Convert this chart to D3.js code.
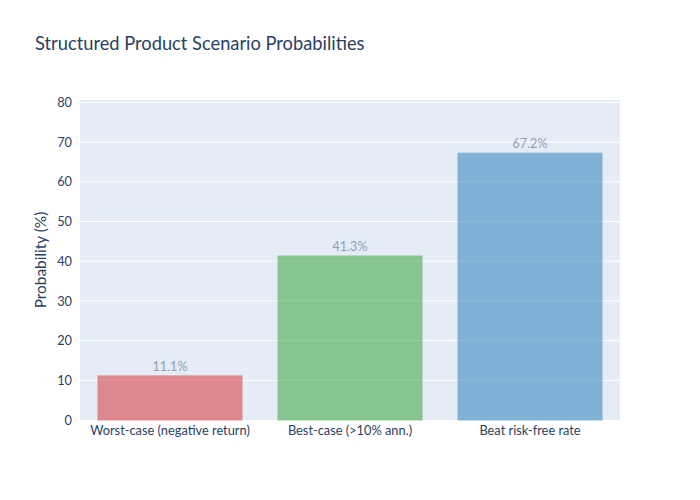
<!DOCTYPE html>
<html>
<head>
<meta charset="utf-8">
<script src="https://cdn.jsdelivr.net/npm/d3@7"></script>
<style>
  body { margin: 0; background: #fff; }
  text { font-family: Lato, "Noto Sans", sans-serif; }
</style>
</head>
<body>
<div id="chart"></div>
<script>
// chart data
const categories = ['Worst-case (negative return)', 'Best-case (>10% ann.)', 'Beat risk-free rate'];
const probabilities = [11.1, 41.3, 67.2];
const barColors = ['#d62728', '#2ca02c', '#1f77b4'];
const yTicks = [0, 10, 20, 30, 40, 50, 60, 70, 80];

const width = 700, height = 500;
const margin = {top: 100, right: 80, bottom: 80, left: 80};
const plotW = width - margin.left - margin.right;
const plotH = height - margin.top - margin.bottom;

const svg = d3.select('#chart').append('svg')
  .attr('width', width)
  .attr('height', height);

svg.append('text')
  .attr('x', 35)
  .attr('y', 50)
  .attr('fill', '#2a3f5f')
  .style('font-size', '18.3px')
  .text('Structured Product Scenario Probabilities');

const g = svg.append('g')
  .attr('transform', `translate(${margin.left},${margin.top})`);

g.append('rect')
  .attr('width', plotW)
  .attr('height', plotH)
  .attr('fill', '#e5ecf6');

const x = d3.scaleBand()
  .domain(categories)
  .range([0, plotW])
  .paddingInner(0.2)
  .paddingOuter(0.1);

const y = d3.scaleLinear()
  .domain([0, 80.6])
  .range([plotH, 0]);

// gridlines
g.selectAll('.grid')
  .data(yTicks.filter(d => d > 0))
  .enter().append('line')
  .attr('class', 'grid')
  .attr('x1', 0)
  .attr('x2', plotW)
  .attr('y1', d => y(d))
  .attr('y2', d => y(d))
  .attr('stroke', '#fff')
  .attr('stroke-width', 1);

// bars
g.selectAll('.bar')
  .data(probabilities)
  .enter().append('rect')
  .attr('class', 'bar')
  .attr('x', (d, i) => x(categories[i]))
  .attr('y', d => y(d))
  .attr('width', x.bandwidth())
  .attr('height', d => plotH - y(d))
  .attr('fill', (d, i) => barColors[i])
  .attr('stroke', (d, i) => barColors[i])
  .attr('stroke-width', 1)
  .attr('opacity', 0.5);

g.selectAll('.bar-label')
  .data(probabilities)
  .enter().append('text')
  .attr('class', 'bar-label')
  .attr('x', (d, i) => x(categories[i]) + x.bandwidth() / 2)
  .attr('y', d => y(d) - 5)
  .attr('text-anchor', 'middle')
  .attr('fill', '#2a3f5f')
  .attr('opacity', 0.45)
  .style('font-size', '12.6px')
  .text(d => d.toFixed(1) + '%');

// y axis
const yAxis = g.append('g')
  .call(d3.axisLeft(y).tickValues(yTicks).tickSize(0).tickPadding(8));
yAxis.select('.domain').remove();
yAxis.selectAll('text')
  .attr('fill', '#2a3f5f')
  .style('font-size', '12.8px')
  .style('font-family', 'Lato, "Noto Sans", sans-serif');

// x axis
const xAxis = g.append('g')
  .attr('transform', `translate(0,${plotH})`)
  .call(d3.axisBottom(x).tickSize(0).tickPadding(6));
xAxis.select('.domain').remove();
xAxis.selectAll('text')
  .attr('fill', '#2a3f5f')
  .style('font-size', '12.8px')
  .style('font-family', 'Lato, "Noto Sans", sans-serif');

svg.append('text')
  .attr('transform', `translate(46,${margin.top + plotH / 2}) rotate(-90)`)
  .attr('text-anchor', 'middle')
  .attr('fill', '#2a3f5f')
  .style('font-size', '15.4px')
  .text('Probability (%)');
</script>
</body>
</html>
